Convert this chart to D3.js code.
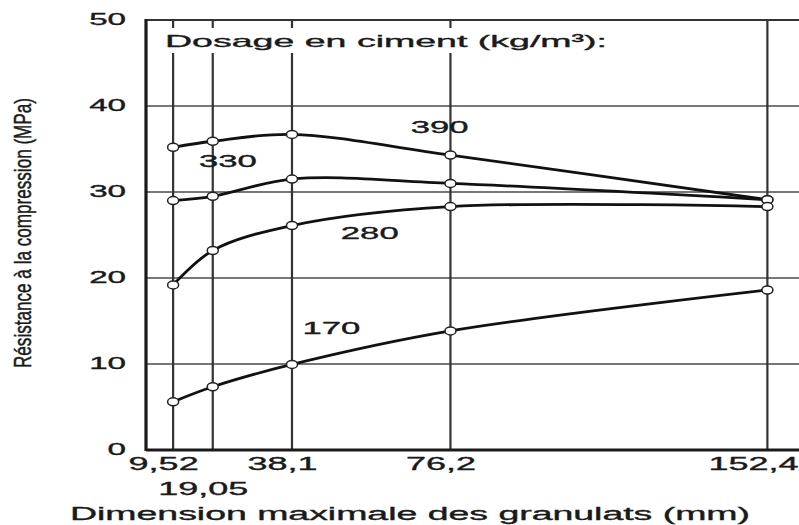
<!DOCTYPE html>
<html>
<head>
<meta charset="utf-8">
<script src="https://cdn.jsdelivr.net/npm/d3@7"></script>
<style>
  html, body { margin: 0; padding: 0; background: #fff; }
  svg { display: block; }
  text { font-family: "Liberation Sans", Arial, sans-serif; fill: #1a1a1a; stroke: #1a1a1a; stroke-width: 0.35px; }
</style>
</head>
<body>
<svg id="chart" width="799" height="525"></svg>
<script>
// ---- data ----
const sizes = [9.52, 19.05, 38.1, 76.2, 152.4];            // mm
const sizeLabels = ["9,52", "19,05", "38,1", "76,2", "152,4"];
const dosages = ["390", "330", "280", "170"];              // kg/m3
const s390 = [35.2, 35.9, 36.7, 34.3, 29.1];
const s330 = [29.0, 29.5, 31.5, 31.0, 29.1];
const s280 = [19.2, 23.2, 26.1, 28.3, 28.3];
const s170 = [5.6, 7.35, 9.95, 13.85, 18.6];
const yTicks = [0, 10, 20, 30, 40, 50];
// label anchors in data units (mm, MPa)
const labelX = [73.6, 22.7, 56.8, 47.6];
const labelY = [36.9, 32.9, 24.5, 13.5];

const titleText = "Dosage en ciment (kg/m\u00B3):";
const xTitle = "Dimension maximale des granulats (mm)";
const yTitle = "R\u00E9sistance \u00E0 la compression (MPa)";

const seriesValues = [s390, s330, s280, s170];

// ---- layout ----
const svg = d3.select("#chart");
const x = d3.scaleLinear().domain([3.0, 160]).range([146, 799]);
const y = d3.scaleLinear().domain([0, 50]).range([450, 20]);
const X0 = x.range()[0], X1 = x.range()[1];
const Y0 = y.range()[0], Y1 = y.range()[1];

// horizontal grid
svg.append("g").selectAll("line").data(yTicks.filter(d => d > 0 && d < 50)).join("line")
  .attr("x1", X0).attr("x2", X1)
  .attr("y1", d => y(d)).attr("y2", d => y(d))
  .attr("stroke", "#4a4a4a").attr("stroke-width", 1.6);

// vertical grid
svg.append("g").selectAll("line").data(sizes).join("line")
  .attr("x1", d => x(d)).attr("x2", d => x(d))
  .attr("y1", Y1).attr("y2", Y0)
  .attr("stroke", "#333").attr("stroke-width", 2.2);

// top border
svg.append("line").attr("x1", X0).attr("x2", X1).attr("y1", Y1).attr("y2", Y1)
  .attr("stroke", "#333").attr("stroke-width", 2.2);

// title with white background
const titleG = svg.append("g");
titleG.append("rect").attr("x", 160).attr("y", 28).attr("width", 452).attr("height", 25).attr("fill", "#fff");
titleG.append("text").attr("x", 165).attr("y", 47)
  .attr("font-size", 17).attr("textLength", 442).attr("lengthAdjust", "spacingAndGlyphs")
  .text(titleText);

// axes
const ySx = 1.95;
const yAxis = svg.append("g").attr("transform", `translate(${X0},0)`)
  .call(d3.axisLeft(y).tickValues(yTicks).tickSize(0));
yAxis.select(".domain").remove();
yAxis.selectAll("text")
  .attr("font-family", null).attr("font-size", 17)
  .attr("text-anchor", "end")
  .attr("x", -20 / ySx).attr("y", -2).attr("dy", "0.36em")
  .attr("transform", `scale(${ySx},1)`);

const xSx = 2.0;
const nTicks = sizes.length;
const xAxis = svg.append("g").attr("transform", `translate(0,${Y0})`)
  .call(d3.axisBottom(x).tickValues(sizes).tickSize(0).tickFormat((d, i) => sizeLabels[i]));
xAxis.select(".domain").remove();
xAxis.selectAll("text")
  .attr("font-family", null).attr("font-size", 18)
  .attr("text-anchor", (d, i) => i === nTicks - 1 ? "end" : "middle")
  .attr("x", (d, i) => (i === nTicks - 1 ? (X1 - 1 - x(d)) : -10) / xSx)
  .attr("dy", 0)
  .attr("y", (d, i) => (i === 1 ? 495 : 470) - Y0)
  .attr("transform", `scale(${xSx},1)`);

// axis lines (thick)
svg.append("line").attr("x1", X0).attr("x2", X0).attr("y1", Y1 - 1).attr("y2", Y0 + 1)
  .attr("stroke", "#1a1a1a").attr("stroke-width", 3.2);
svg.append("line").attr("x1", X0).attr("x2", X1).attr("y1", Y0).attr("y2", Y0)
  .attr("stroke", "#1a1a1a").attr("stroke-width", 3);

// axis titles
svg.append("text").attr("x", 70).attr("y", 520)
  .attr("font-size", 18).attr("textLength", 680).attr("lengthAdjust", "spacingAndGlyphs")
  .text(xTitle);
svg.append("text")
  .attr("transform", "translate(31,368) scale(1.45,1) rotate(-90)")
  .attr("font-size", 17).attr("textLength", 270).attr("lengthAdjust", "spacingAndGlyphs")
  .text(yTitle);

// curves
const line = d3.line()
  .x((d, i) => x(sizes[i]))
  .y(d => y(d))
  .curve(d3.curveCatmullRom.alpha(0.5));

svg.append("g").selectAll("path").data(seriesValues).join("path")
  .attr("d", d => line(d))
  .attr("fill", "none").attr("stroke", "#111").attr("stroke-width", 2.8)
  .attr("stroke-linejoin", "round");

// points
seriesValues.forEach(vals => {
  svg.append("g").selectAll("ellipse").data(vals).join("ellipse")
    .attr("cx", (d, i) => x(sizes[i])).attr("cy", d => y(d))
    .attr("rx", 5.5).attr("ry", 4)
    .attr("fill", "#fff").attr("stroke", "#222").attr("stroke-width", 1.5);
});

// series labels
const lSx = 2.1;
svg.append("g").selectAll("text").data(dosages).join("text")
  .attr("font-size", 16.5)
  .attr("text-anchor", "middle")
  .attr("x", (d, i) => x(labelX[i]) / lSx)
  .attr("y", (d, i) => y(labelY[i]))
  .attr("transform", `scale(${lSx},1)`)
  .text(d => d);
</script>
</body>
</html>
